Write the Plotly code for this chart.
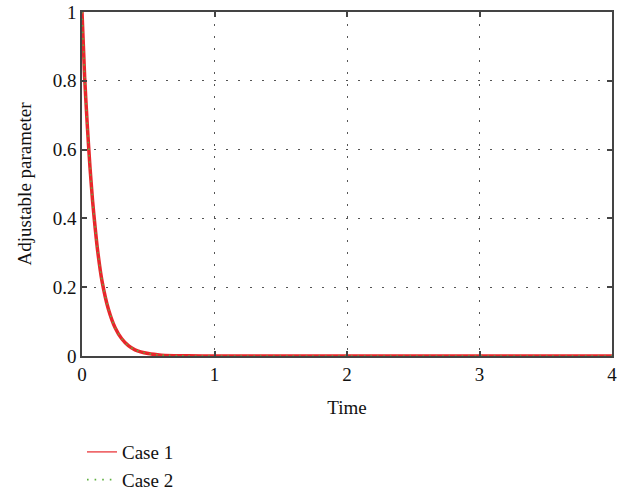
import plotly.graph_objects as go

time = [0, 0.02, 0.04, 0.06, 0.08, 0.10, 0.12, 0.15, 0.20, 0.25, 0.30, 0.35, 0.40, 0.50, 0.60, 0.80, 1.0, 2.0, 3.0, 4.0]
case1 = [1.0, 0.81, 0.67, 0.55, 0.45, 0.37, 0.30, 0.22, 0.135, 0.082, 0.05, 0.03, 0.018, 0.007, 0.0025, 0.0004, 0.0, 0.0, 0.0, 0.0]
case2 = [1.0, 0.81, 0.67, 0.55, 0.45, 0.37, 0.30, 0.22, 0.135, 0.082, 0.05, 0.03, 0.018, 0.007, 0.0025, 0.0004, 0.0, 0.0, 0.0, 0.0]
x_ticks = [0, 1, 2, 3, 4]
y_ticks = [0, 0.2, 0.4, 0.6, 0.8, 1]
y_tick_labels = ["0", "0.2", "0.4", "0.6", "0.8", "1"]

font = "Liberation Serif, Times New Roman, serif"
red = "#e8272b"
green = "#5fb040"

fig = go.Figure()
# Plotted curves (legend entries drawn separately with thin strokes, as in the reference)
fig.add_trace(go.Scatter(x=time, y=case1, mode="lines", name="Case 1", legendgroup="c1", showlegend=False,
                         line=dict(color=red, width=3.5, shape="spline", smoothing=0.6)))
fig.add_trace(go.Scatter(x=time, y=case2, mode="lines", name="Case 2", legendgroup="c2", showlegend=False,
                         line=dict(color=green, width=1.5, dash="1.5px,5px", shape="spline", smoothing=0.6)))
fig.add_trace(go.Scatter(x=[None], y=[None], mode="lines", name="Case 1", legendgroup="c1",
                         line=dict(color=red, width=1.2)))
fig.add_trace(go.Scatter(x=[None], y=[None], mode="lines", name="Case 2", legendgroup="c2",
                         line=dict(color=green, width=1.6, dash="1.6px,6px")))

axis_common = dict(
    showline=True, linecolor="#444444", linewidth=1.5, mirror="ticks",
    ticks="inside", ticklen=5, tickcolor="#444444", tickwidth=1.5,
    showgrid=True, gridcolor="#555555", griddash="1.5px,10.5px", gridwidth=1.2,
    zeroline=False, automargin=False,
    tickfont=dict(family=font, size=19, color="#111111"),
)

fig.update_xaxes(range=[0, 4], tickvals=x_ticks,
                 title=dict(text="Time", font=dict(family=font, size=19, color="#111111"), standoff=17),
                 **axis_common)
fig.update_yaxes(range=[0, 1], tickvals=y_ticks, ticktext=y_tick_labels,
                 title=dict(text="Adjustable parameter", font=dict(family=font, size=19, color="#111111"), standoff=16),
                 **axis_common)

fig.update_layout(
    width=626, height=490,
    margin=dict(l=82, r=14, t=12, b=134, autoexpand=False),
    plot_bgcolor="white", paper_bgcolor="white",
    font=dict(family=font, size=19, color="#111111"),
    legend=dict(x=0.0, y=-0.224, xanchor="left", yanchor="top",
                font=dict(family=font, size=19), tracegroupgap=0,
                bgcolor="rgba(0,0,0,0)"),
    showlegend=True,
)

# remove the default page margin so the figure fills the window exactly
fig.write_html("out.html", config={"displayModeBar": False},
               post_script="document.body.style.margin='0';document.body.style.overflow='hidden';")
